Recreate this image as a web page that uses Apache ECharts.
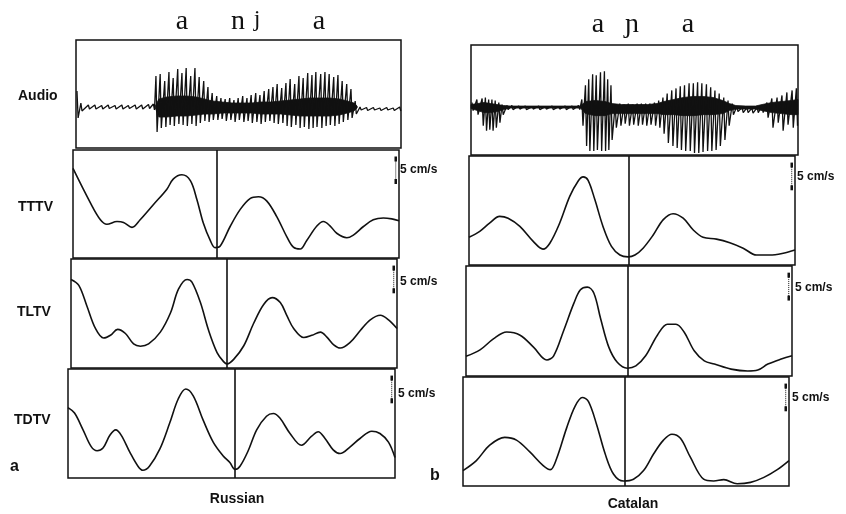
<!DOCTYPE html>
<html><head><meta charset="utf-8">
<script src="https://cdn.jsdelivr.net/npm/echarts@6/dist/echarts.min.js"></script>
<style>html,body{margin:0;padding:0;background:#fff}#c{width:846px;height:514px}</style>
</head><body><div id="c"></div>
<script>
// ---------- DATA ----------
// normalised time (0-100 across each box), velocity in cm/s (0 = box bottom)
const ruTTTVx = [0,5.3,8.4,10.4,13.5,15.5,18.1,20.6,24.7,28.8,30.8,33.4,36.0,38.0,40.0,42.1,43.6,45.1,48.2,51.3,54.3,56.9,59.4,62.5,65.6,67.6,69.7,71.7,74.8,76.8,78.9,80.9,84.0,86.0,89.1,92.1,95.2,97.8,100];
const ruTTTVv = [19.9,12.3,8.5,7.5,8.1,7.9,6.8,8.5,11.9,15.3,17.6,18.5,17.2,13.0,7.7,3.9,2.3,2.6,7.0,10.8,13.2,13.6,12.7,9.2,4.7,2.4,2.0,3.9,7.1,8.1,7.1,5.5,4.5,5.1,7.0,8.5,8.9,8.7,8.3];
const ruTLTVx = [0,2.4,4.9,7.5,10.0,12.1,14.3,16.7,19.2,21.3,23.8,27.4,30.5,33.0,35.6,37.1,39.7,42.2,44.8,46.8,47.9,49.9,53.0,56.0,59.1,61.7,64.2,66.3,68.3,71.4,73.9,76.5,78.5,80.6,82.6,85.7,88.8,91.8,94.9,97.4,100];
const ruTLTVv = [19.5,18.2,13.6,8.7,6.6,7.2,8.5,7.6,5.3,4.8,5.3,7.9,12.1,17.4,19.5,18.9,14.4,8.3,3.4,1.4,0.9,1.9,4.9,9.8,14.0,15.5,14.4,11.4,8.7,6.7,7.2,7.9,6.8,5.1,4.4,5.7,8.3,10.6,11.6,10.6,8.7];
const ruTDTVx = [0,2.0,4.6,7.1,8.9,10.7,12.8,14.6,16.3,18.9,21.4,22.9,24.9,28.1,31.1,33.7,36.0,38.3,41.3,44.4,47.4,49.5,51.1,52.6,55.1,57.7,60.7,62.8,64.8,67.9,71.4,74.5,76.5,78.6,81.1,83.2,86.2,89.3,92.9,95.4,98.0,100];
const ruTDTVv = [15.5,14.3,10.6,6.9,6.0,6.6,9.4,10.6,9.4,5.7,2.6,1.7,2.6,6.4,12.1,17.4,19.6,18.1,12.8,7.9,4.9,3.4,1.9,2.6,6.0,10.6,13.6,14.2,13.2,9.8,7.2,9.2,10.2,8.7,6.2,5.4,6.8,8.7,10.3,9.8,7.9,4.5];

const caTTTVx = [0,3.3,6.3,9.4,12.0,15.6,19.7,22.7,24.8,27.8,30.9,33.5,35.0,36.5,38.6,41.1,43.7,46.3,48.8,50.9,53.4,56.5,59.6,62.6,65.7,68.8,71.8,75.9,80.0,84.1,88.2,92.3,96.4,100];
const caTTTVv = [6.1,7.4,9.2,10.7,10.3,8.5,5.2,3.5,4.8,9.2,15.1,18.5,19.4,18.7,14.4,8.5,4.1,2.2,1.8,2.2,3.7,6.6,10.0,11.3,10.3,7.7,6.1,5.7,4.9,3.7,2.2,2.2,2.6,3.3];
const caTLTVx = [0,4.3,8.4,12.5,16.6,20.7,24.8,26.9,30.0,33.1,35.1,37.2,39.2,41.3,43.8,46.4,49.5,52.1,55.1,58.7,61.8,64.4,66.9,70.0,73.1,76.2,81.3,86.4,89.5,92.6,96.7,100];
const caTLTVv = [4.3,5.7,8.1,9.6,8.9,6.3,3.5,4.4,10.0,15.9,18.8,19.4,18.1,12.5,6.3,3.0,1.7,2.2,4.4,8.9,11.3,11.3,9.6,5.5,3.3,2.6,1.5,1.1,1.3,2.6,3.7,4.4];
const caTDTVx = [0,4.1,8.2,12.8,16.4,20.5,24.6,26.8,28.7,31.8,34.4,36.6,38.5,41.0,43.6,46.2,49.2,52.3,55.4,58.5,61.5,64.1,66.7,69.7,73.8,76.9,80.0,84.1,88.2,92.3,96.4,100];
const caTDTVv = [3.4,5.6,9.0,10.7,10.1,7.5,4.5,3.6,6.0,12.8,17.6,19.5,18.6,13.5,7.1,2.6,1.1,1.5,3.4,7.1,10.1,11.4,10.5,6.4,1.5,1.1,1.4,0.5,0.8,1.9,3.6,5.6];

// vertical reference lines (velocity minimum), normalised time
const ruMarks = [44.1, 47.9, 51.1];
const caMarks = [49.0, 49.5, 49.7];

// scale bar: 5 cm/s
const scaleLo = 17, scaleHi = 22;
const scaleText = '5 cm/s';

// audio: pulse positions with upper / lower excursion (arbitrary units)
const ruAudioX  = [0.3,1.5,3.8,5.8,7.9,9.9,12.0,14.1,16.1,18.2,20.2,22.3,23.8,
  24.6,25.9,27.3,28.6,29.9,31.3,32.6,33.9,35.3,36.6,37.9,39.3,40.6,41.9,43.3,44.6,45.9,47.3,48.6,49.9,51.3,52.6,53.9,55.3,56.6,57.9,59.3,60.6,61.9,63.3,64.6,65.9,67.3,68.6,69.9,71.3,72.6,73.8,75.3,76.6,77.9,79.3,80.6,81.9,83.3,84.6,85.9,
  87.4,89.4,91.5,93.5,95.6,97.6,99.6];
const ruAudioHi = [16,4,2,2,1.5,2,1.5,2,1.5,2,2,2.5,3,
  31,33,26,35,29,38,34,39,31,39,30,26,20,14,11,9,8,9,7,9,11,9,12,14,12,16,18,20,23,19,24,28,23,31,29,34,32,35,33,35,33,30,32,26,23,18,6,
  0,-0.5,-0.5,-1,-0.5,-1,0];
const ruAudioLo = [-11,-4,-2,-2,-2,-1.5,-2,-2,-1.5,-2,-2,-1.5,-3,
  -25,-21,-20,-18,-19,-17,-18,-19,-17,-19,-16,-14,-15,-13,-13,-12,-14,-13,-15,-13,-15,-14,-16,-15,-17,-15,-14,-16,-17,-16,-19,-20,-18,-21,-20,-22,-21,-20,-21,-19,-18,-19,-17,-15,-13,-11,-7,
  -3,-3.5,-3,-3.5,-3,-3.5,-4];
// dense core of the waveform (upper / lower edge)
const ruCoreX  = [24.4,25.5,28,31,34,37,39.5,42,45,48,51,54,57,60,63,66,69,72,75,78,81,83.5,85.5,86.5];
const ruCoreHi = [1,8,10,11,11,10,8,6,5,4,4,4,5,5,6,7,8,9,9,9,8,6,4,1];
const ruCoreLo = [-1,-10,-10,-9,-9,-8,-7,-7,-6,-6,-6,-6,-7,-7,-7,-8,-9,-9,-9,-9,-8,-6,-4,-1];

const caAudioX  = [0.3,1.8,3.4,4.4,5.4,6.4,7.4,8.5,9.5,11.0,
  12.5,14.6,16.6,18.7,20.7,22.7,24.8,26.8,28.8,30.9,32.9,
  33.9,35.0,36.0,37.2,38.3,39.6,40.8,41.8,42.8,
  44.1,45.5,46.8,48.1,49.4,50.8,52.1,53.4,54.7,56.1,57.4,
  58.7,60.0,61.4,62.7,64.0,65.3,66.7,68.0,69.3,70.6,72.0,73.3,74.6,75.9,77.3,78.6,79.9,
  81.3,82.9,84.4,85.9,87.5,
  89.0,90.5,92.0,93.6,95.1,96.6,98.2,99.5];
const caAudioHi = [4,7,8,9,7,7,6,4,2,1,
  1,0.5,0.5,0,0.5,0,0.5,0,0.5,0.5,1,
  7,21,27,32,31,34,35,27,21,
  2,3,2,3,2,3,3,3,3,4,6,
  9,13,16,18,20,21,23,23,24,23,22,19,16,13,9,6,3,
  0,-1,-1,-1.5,-1,
  1,4,8,9,11,14,16,18];
const caAudioLo = [-4,-8,-19,-24,-23,-24,-21,-16,-8,-3,
  -3,-2.5,-3,-2.5,-3,-2.5,-3,-2.5,-3,-3,-3,
  -19,-39,-44,-44,-43,-44,-44,-43,-33,
  -21,-19,-17,-19,-18,-19,-18,-19,-18,-19,-21,
  -27,-36,-39,-41,-43,-44,-44,-46,-46,-45,-44,-44,-43,-39,-33,-19,-8,
  -5,-6,-6,-6.5,-6,
  -6,-11,-21,-16,-24,-18,-21,-19];
const caCoreX  = [0,2,4,6,8,10,12,33.5,35,38,41,43,46,50,54,57,59,62,65,68,71,74,77,79,81,84,87,89,92,95,98,100];
const caCoreHi = [2,3,4,3,2,1,0.5,0.5,5,6,5,3,2,2,2,3,5,7,9,10,10,9,6,3,1,0.5,0.5,2,4,5,6,7];
const caCoreLo = [-2,-4,-6,-6,-5,-3,-1.5,-1.5,-7,-9,-9,-7,-7,-7,-7,-7,-8,-8,-9,-9,-8,-8,-7,-4,-2.5,-2.5,-2.5,-4,-6,-7,-8,-8];

const rowLabels = ['Audio', 'TTTV', 'TLTV', 'TDTV'];
const ruSegments = ['a', 'n', 'j', 'a'];
const caSegments = ['a', '\u0272', 'a'];
const panelTags = ['a', 'b'];
const languages = ['Russian', 'Catalan'];

// ---------- LAYOUT ----------
const gridBoxes = [
  // Russian
  {left: 76, top: 40, width: 325, height: 108},
  {left: 73, top: 150, width: 326, height: 108},
  {left: 71, top: 259, width: 326, height: 109},
  {left: 68, top: 369, width: 327, height: 109},
  // Catalan
  {left: 471, top: 45, width: 327, height: 110},
  {left: 469, top: 156, width: 326, height: 109},
  {left: 466, top: 266, width: 326, height: 110},
  {left: 463, top: 377, width: 326, height: 109}
];
const audioRange = [[-41, 67], [-48, 61]];
const velRange = [0, 24];

const INK = '#111';
const SANS = '"Liberation Sans", Arial, Helvetica, sans-serif';
const SERIF = '"Liberation Serif", "DejaVu Serif", "Times New Roman", serif';

function zig(xs, hi, lo) {
  const d = [];
  for (let i = 0; i < xs.length; i++) {
    d.push([xs[i], hi[i]]);
    d.push([xs[i] + 0.35, lo[i]]);
  }
  return d;
}
function pairs(xs, vs) { return xs.map((x, i) => [x, vs[i]]); }

const grid = gridBoxes.map(g => Object.assign({
  show: true, borderColor: INK, borderWidth: 1.5, backgroundColor: 'transparent', containLabel: false
}, g));

const xAxis = [], yAxis = [];
for (let i = 0; i < 8; i++) {
  xAxis.push({type: 'value', gridIndex: i, min: 0, max: 100, show: false});
  const isAudio = (i % 4) === 0;
  const r = isAudio ? audioRange[i < 4 ? 0 : 1] : velRange;
  yAxis.push({type: 'value', gridIndex: i, min: r[0], max: r[1], show: false});
}

const series = [];
function coreSeries(gi, xs, hi, lo) {
  return {
    type: 'custom', xAxisIndex: gi, yAxisIndex: gi, data: [0], silent: true, animation: false,
    renderItem: function (params, api) {
      const pts = [];
      for (let i = 0; i < xs.length; i++) pts.push(api.coord([xs[i], hi[i]]));
      for (let i = xs.length - 1; i >= 0; i--) pts.push(api.coord([xs[i], lo[i]]));
      return {type: 'polygon', shape: {points: pts}, style: {fill: INK, stroke: INK, lineWidth: 0.8}};
    }
  };
}
// audio
series.push(coreSeries(0, ruCoreX, ruCoreHi, ruCoreLo));
series.push(coreSeries(4, caCoreX, caCoreHi, caCoreLo));
series.push({type: 'line', xAxisIndex: 0, yAxisIndex: 0, data: zig(ruAudioX, ruAudioHi, ruAudioLo),
  showSymbol: false, lineStyle: {color: INK, width: 1.3}, silent: true, animation: false});
series.push({type: 'line', xAxisIndex: 4, yAxisIndex: 4, data: zig(caAudioX, caAudioHi, caAudioLo),
  showSymbol: false, lineStyle: {color: INK, width: 1.3}, silent: true, animation: false});

const vel = [
  [1, ruTTTVx, ruTTTVv, ruMarks[0]],
  [2, ruTLTVx, ruTLTVv, ruMarks[1]],
  [3, ruTDTVx, ruTDTVv, ruMarks[2]],
  [5, caTTTVx, caTTTVv, caMarks[0]],
  [6, caTLTVx, caTLTVv, caMarks[1]],
  [7, caTDTVx, caTDTVv, caMarks[2]]
];
vel.forEach(([gi, xs, vs, m]) => {
  series.push({
    type: 'line', xAxisIndex: gi, yAxisIndex: gi, data: pairs(xs, vs), smooth: 0.35,
    showSymbol: false, lineStyle: {color: INK, width: 1.6}, silent: true, animation: false,
    markLine: {symbol: 'none', silent: true, animation: false, label: {show: false},
      lineStyle: {color: INK, width: 1.6, type: 'solid'}, data: [{xAxis: m}]}
  });
  // scale bar
  series.push({
    type: 'line', xAxisIndex: gi, yAxisIndex: gi, data: [[99, scaleLo], [99, scaleHi]],
    symbol: 'rect', symbolSize: [2.5, 5], showSymbol: true, itemStyle: {color: INK},
    lineStyle: {color: INK, width: 1, type: 'dotted'}, silent: true, animation: false
  });
});

function txt(s, x, y, size, opts) {
  return {
    type: 'text', x: x, y: y, silent: true,
    style: Object.assign({text: s, fill: INK, font: 'bold ' + size + 'px ' + SANS,
      align: 'left', verticalAlign: 'middle'}, opts || {})
  };
}

const graphic = [
  txt(rowLabels[0], 18, 96, 14),
  txt(rowLabels[1], 18, 207, 14),
  txt(rowLabels[2], 17, 312, 14),
  txt(rowLabels[3], 14, 420, 14),
  // phonetic segments
  txt(ruSegments[0], 182, 22, 28, {font: '28px ' + SERIF, align: 'center'}),
  txt(ruSegments[1], 238, 22, 28, {font: '28px ' + SERIF, align: 'center'}),
  txt(ruSegments[2], 257, 20, 24, {font: '24px ' + SERIF, align: 'center'}),
  txt(ruSegments[3], 319, 22, 28, {font: '28px ' + SERIF, align: 'center'}),
  txt(caSegments[0], 598, 25, 28, {font: '28px ' + SERIF, align: 'center'}),
  txt(caSegments[1], 632, 25, 28, {font: '28px ' + SERIF, align: 'center'}),
  txt(caSegments[2], 688, 25, 28, {font: '28px ' + SERIF, align: 'center'}),
  // scale texts
  txt(scaleText, 400, 170, 12),
  txt(scaleText, 400, 282, 12),
  txt(scaleText, 398, 394, 12),
  txt(scaleText, 797, 177, 12),
  txt(scaleText, 795, 288, 12),
  txt(scaleText, 792, 398, 12),
  // panel tags & languages
  txt(panelTags[0], 10, 467, 16),
  txt(panelTags[1], 430, 476, 16),
  txt(languages[0], 237, 499, 14, {align: 'center'}),
  txt(languages[1], 633, 504, 14, {align: 'center'})
];

const chart = echarts.init(document.getElementById('c'), null, {renderer: 'canvas'});
chart.setOption({
  backgroundColor: '#fff',
  animation: false,
  grid: grid, xAxis: xAxis, yAxis: yAxis, series: series, graphic: graphic
});
</script></body></html>
